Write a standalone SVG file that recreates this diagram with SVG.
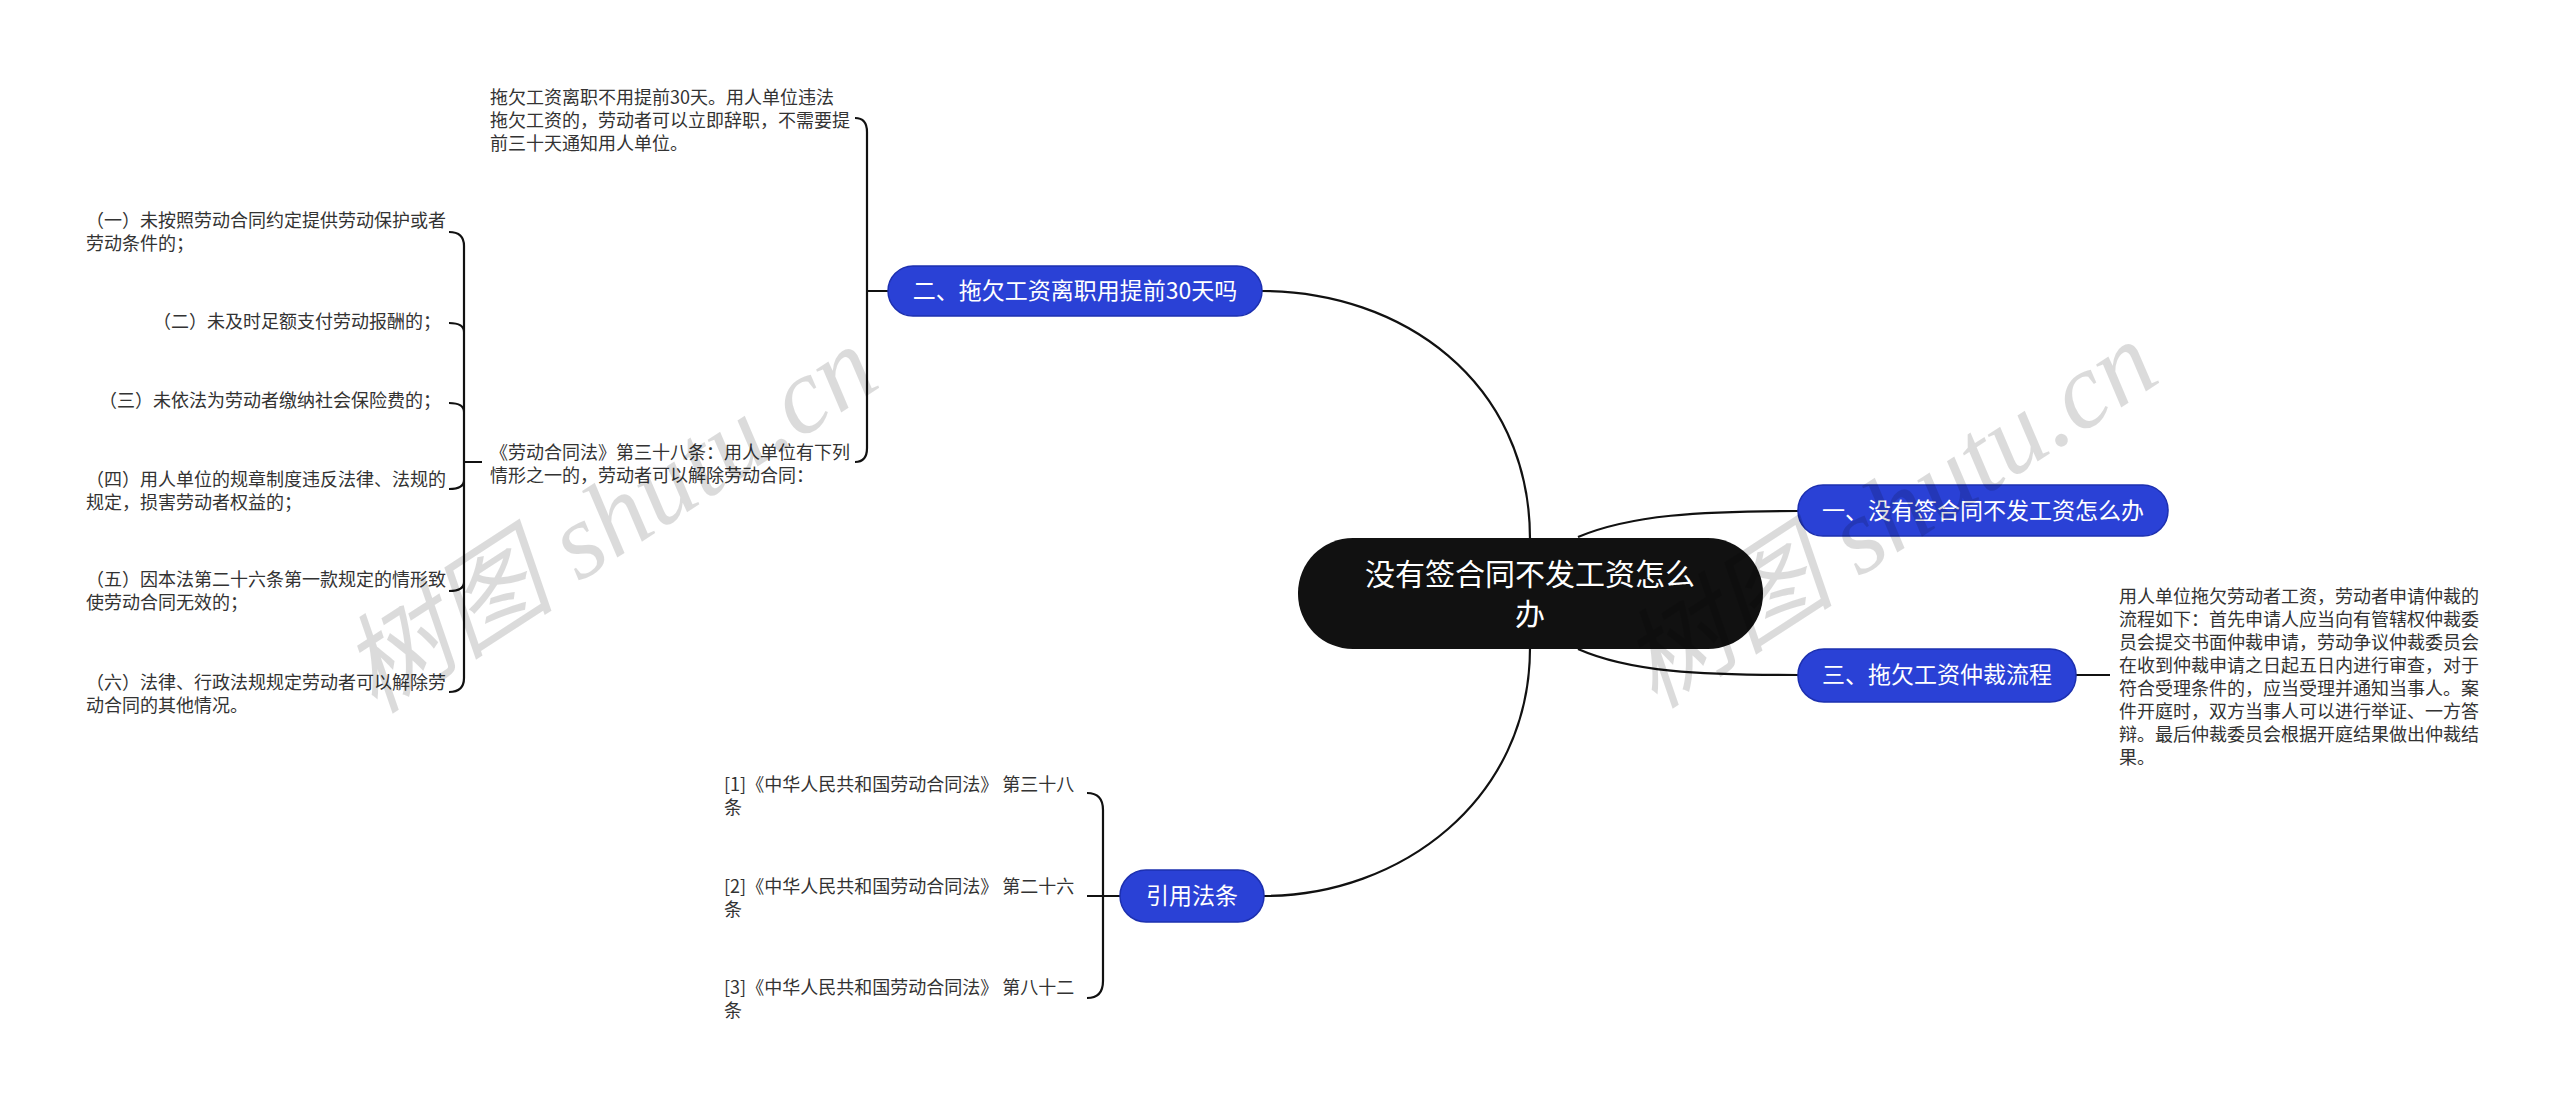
<svg xmlns="http://www.w3.org/2000/svg" width="2560" height="1105" viewBox="0 0 2560 1105">
<style>
text{font-family:"Noto Sans CJK SC","Liberation Sans",sans-serif;}
.t{font-size:18px;fill:#333;}
.n{font-size:23px;fill:#fff;text-anchor:middle;}
.c{font-size:30px;fill:#fff;text-anchor:middle;}
.b{fill:#2a41d6;stroke:#1d30b0;stroke-width:1.5;}
.l{fill:none;stroke:#111;stroke-width:2.2;}
.w{font-size:108px;fill:#000;fill-opacity:0.14;font-family:"Liberation Serif","Noto Sans CJK SC",serif;font-style:italic;}
</style>
<rect width="2560" height="1105" fill="#fff"/>
<g id="connectors">
<path class="l" d="M1530,539 C1530,380 1400,291 1262,291"/>
<path class="l" d="M1530,648 C1530,800 1400,896 1264,896"/>
<path class="l" d="M1578,537 C1630,515 1700,511 1798,511"/>
<path class="l" d="M1578,649 C1630,672 1700,675 1798,675"/>
<path class="l" d="M2076,675 L2110,675"/>
<path class="l" d="M888,291 L867,291 M855,118 Q867,118 867,132 L867,448 Q867,462 855,462"/>
<path class="l" d="M482,462 L464,462 M449,232 Q464,232 464,246 L464,678 Q464,692 449,692 M449,323 Q464,323 464,332 M449,403 Q464,403 464,412 M449,489 Q464,489 464,480 M449,591 Q464,591 464,582"/>
<path class="l" d="M1120,896 L1087,896 M1087,793 Q1103,793 1103,810 L1103,981 Q1103,998 1087,998"/>
</g>
<g id="center"><rect x="1298" y="538" width="465" height="111" rx="55" fill="#111"/>
<text class="c" x="1530" y="585">没有签合同不发工资怎么</text><text class="c" x="1530" y="625">办</text></g>
<g id="n1"><rect class="b" x="1798" y="485" width="370" height="51" rx="25"/><text class="n" x="1983" y="519">一、没有签合同不发工资怎么办</text></g>
<g id="n3"><rect class="b" x="1798" y="649" width="278" height="53" rx="26"/><text class="n" x="1937" y="683">三、拖欠工资仲裁流程</text></g>
<g id="n3d" class="t">
<text x="2119" y="603">用人单位拖欠劳动者工资，劳动者申请仲裁的</text>
<text x="2119" y="626">流程如下：首先申请人应当向有管辖权仲裁委</text>
<text x="2119" y="649">员会提交书面仲裁申请，劳动争议仲裁委员会</text>
<text x="2119" y="672">在收到仲裁申请之日起五日内进行审查，对于</text>
<text x="2119" y="695">符合受理条件的，应当受理并通知当事人。案</text>
<text x="2119" y="718">件开庭时，双方当事人可以进行举证、一方答</text>
<text x="2119" y="741">辩。最后仲裁委员会根据开庭结果做出仲裁结</text>
<text x="2119" y="764">果。</text>
</g>
<g id="n2"><rect class="b" x="888" y="266" width="374" height="50" rx="25"/><text class="n" x="1075" y="299">二、拖欠工资离职用提前30天吗</text></g>
<g id="n2a" class="t">
<text x="490" y="104">拖欠工资离职不用提前30天。用人单位违法</text>
<text x="490" y="127">拖欠工资的，劳动者可以立即辞职，不需要提</text>
<text x="490" y="150">前三十天通知用人单位。</text>
</g>
<g id="n2b" class="t">
<text x="490" y="459">《劳动合同法》第三十八条：用人单位有下列</text>
<text x="490" y="482">情形之一的，劳动者可以解除劳动合同：</text>
</g>
<g id="i1" class="t"><text x="86" y="227">（一）未按照劳动合同约定提供劳动保护或者</text><text x="86" y="250">劳动条件的；</text></g>
<g id="i2" class="t"><text x="441" y="328" text-anchor="end">（二）未及时足额支付劳动报酬的；</text></g>
<g id="i3" class="t"><text x="441" y="407" text-anchor="end">（三）未依法为劳动者缴纳社会保险费的；</text></g>
<g id="i4" class="t"><text x="86" y="486">（四）用人单位的规章制度违反法律、法规的</text><text x="86" y="509">规定，损害劳动者权益的；</text></g>
<g id="i5" class="t"><text x="86" y="586">（五）因本法第二十六条第一款规定的情形致</text><text x="86" y="609">使劳动合同无效的；</text></g>
<g id="i6" class="t"><text x="86" y="689">（六）法律、行政法规规定劳动者可以解除劳</text><text x="86" y="712">动合同的其他情况。</text></g>
<g id="n4"><rect class="b" x="1120" y="870" width="144" height="52" rx="26"/><text class="n" x="1192" y="904">引用法条</text></g>
<g id="r1" class="t"><text x="724" y="791">[1]《中华人民共和国劳动合同法》 第三十八</text><text x="724" y="814">条</text></g>
<g id="r2" class="t"><text x="724" y="893">[2]《中华人民共和国劳动合同法》 第二十六</text><text x="724" y="916">条</text></g>
<g id="r3" class="t"><text x="724" y="994">[3]《中华人民共和国劳动合同法》 第八十二</text><text x="724" y="1017">条</text></g>
<g id="watermarks">
<text class="w" transform="translate(375,715) rotate(-33)">树图 shutu.cn</text>
<text class="w" transform="translate(1655,710) rotate(-33)">树图 shutu.cn</text>
</g>
</svg>
